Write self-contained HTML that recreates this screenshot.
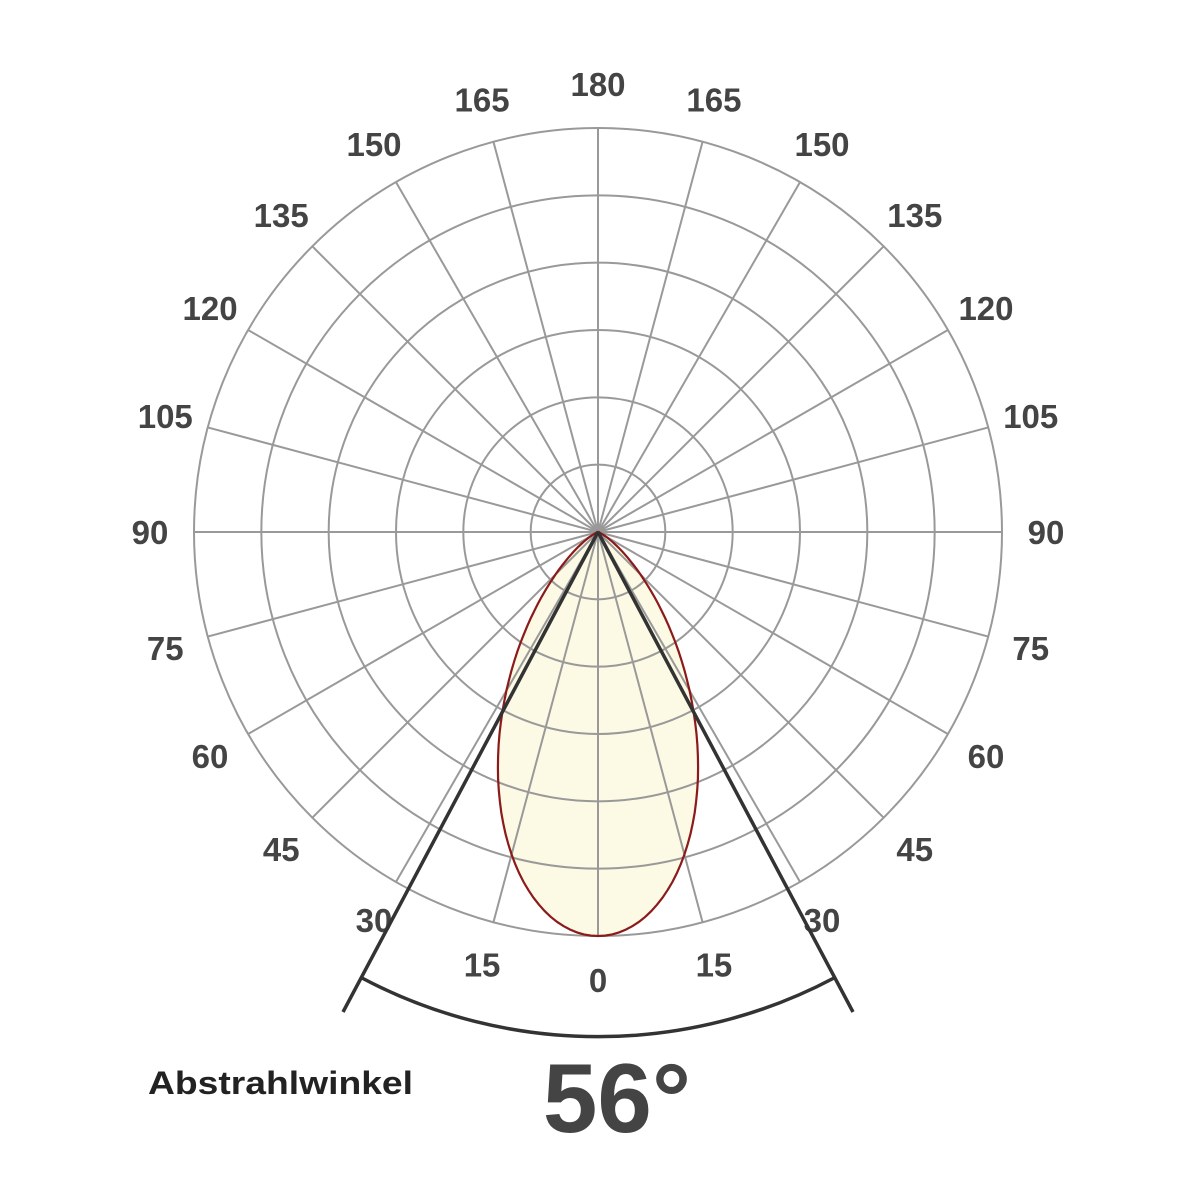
<!DOCTYPE html>
<html><head><meta charset="utf-8"><style>
html,body{margin:0;padding:0;background:#fff;}
svg{display:block;}
text{font-family:"Liberation Sans",Arial,sans-serif;font-weight:bold;}
</style></head><body>
<svg id="s" width="1200" height="1200" viewBox="0 0 1200 1200" xmlns="http://www.w3.org/2000/svg">
<rect width="1200" height="1200" fill="#fff"/>
<path id="lobeFill" fill="#fcf9e4" stroke="none"/>
<g id="grid" stroke="#999" stroke-width="2" fill="none"></g>
<path id="lobe" fill="none" stroke="#8b1a1a" stroke-width="2.2"/>
<g id="labels" fill="#444" font-size="33" text-anchor="middle"></g>
<line x1="598" y1="532" x2="343" y2="1012" stroke="#333" stroke-width="3.5"/>
<line x1="598" y1="532" x2="853" y2="1012" stroke="#333" stroke-width="3.5"/>
<path d="M362,978 A504,504 0 0 0 834,978" fill="none" stroke="#333" stroke-width="3.5"/>
<text x="148" y="1094" font-size="32" fill="#222" textLength="265" lengthAdjust="spacingAndGlyphs">Abstrahlwinkel</text>
<text x="617" y="1132" font-size="98" fill="#444" text-anchor="middle">56°</text>
</svg>
<script>
var cx=598,cy=532,R=404,ns="http://www.w3.org/2000/svg";
var g=document.getElementById('grid');
for(var i=1;i<=6;i++){var c=document.createElementNS(ns,'circle');c.setAttribute('cx',cx);c.setAttribute('cy',cy);c.setAttribute('r',R*i/6);g.appendChild(c);}
for(var a=0;a<360;a+=15){var t=a*Math.PI/180;var l=document.createElementNS(ns,'line');
l.setAttribute('x1',cx);l.setAttribute('y1',cy);l.setAttribute('x2',cx+R*Math.sin(t));l.setAttribute('y2',cy+R*Math.cos(t));g.appendChild(l);}
var lb=document.getElementById('labels');
for(var a=-180;a<=180;a+=15){if(a==-180)continue;var t=a*Math.PI/180;var x=cx+448*Math.sin(t),y=cy+448*Math.cos(t);
var tx=document.createElementNS(ns,'text');tx.setAttribute('x',x);tx.setAttribute('y',y+12);tx.textContent=Math.abs(a);lb.appendChild(tx);}
var d='';
for(var k=-90;k<=90;k+=1){var t=k*Math.PI/180;var r=R*Math.pow(Math.max(Math.cos(t),0),5.5);
var x=cx+r*Math.sin(t),y=cy+r*Math.cos(t);d+=(k==-90?'M':'L')+x.toFixed(1)+','+y.toFixed(1);}
d+='Z';
document.getElementById('lobe').setAttribute('d',d);
document.getElementById('lobeFill').setAttribute('d',d);
</script>
</body></html>
